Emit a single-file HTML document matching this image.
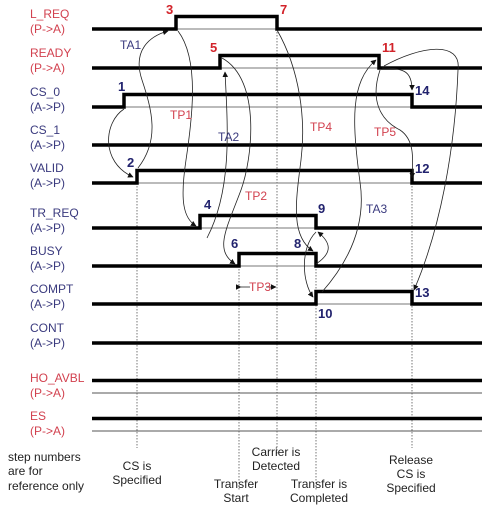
<!DOCTYPE html>
<html><head><meta charset="utf-8"><style>
body{margin:0;background:#fff;width:496px;height:509px;overflow:hidden}
svg{display:block}
.lbl{font-family:"Liberation Sans",sans-serif;font-size:12px}
.r{fill:#d2414f}.b{fill:#3a3a7e}
.num{font-family:"Liberation Sans",sans-serif;font-size:13px;font-weight:bold}
.bt{font-family:"Liberation Sans",sans-serif;font-size:12px;fill:#222}
</style></head><body>
<svg id="chart" width="496" height="509" viewBox="0 0 496 509">
<defs><marker id="ah" viewBox="0 0 10 10" refX="9" refY="5" markerWidth="7" markerHeight="7" orient="auto"><path d="M0,0L10,5L0,10z" fill="#111"/></marker></defs>
<g id="guides" stroke="#555" stroke-width="0.8" stroke-dasharray="1.5,1.5"></g>
<g id="rows"></g>
<g fill="none" stroke="#222" stroke-width="0.8" marker-end="url(#ah)">
<path d="M124,109 C104,122 100,162 133,177"/>
<path d="M138,168 C160,140 152,110 142,80 C132,50 150,36 168,31"/>
<path d="M178,31 C200,60 192,120 186,160 C180,200 183,218 196,226"/>
<path d="M207,238 C232,190 228,130 225,72"/>
<path d="M222,58 C262,80 252,160 241,190 C226,230 214,250 235,264"/>
<path d="M277,30 C300,70 306,120 301,160 C296,200 290,236 313,251"/>
<path d="M316,264 C334,252 330,242 318,232"/>
<path d="M316,232 C300,248 302,282 313,297"/>
<path d="M322,292 C352,258 366,222 360,182 C352,122 350,82 376,60"/>
<path d="M380,70 C370,100 380,120 400,130 C415,140 413,160 412,178"/>
<path d="M382,68 C405,68 412,72 412,90"/>
<path d="M384,66 C420,46 462,40 458,70 C455,150 440,230 414,290"/>
</g>
<g stroke="#222" stroke-width="0.8">
<line x1="241" y1="287" x2="250" y2="287" marker-start="url(#ah)"/>
<line x1="266" y1="287" x2="276" y2="287" marker-end="url(#ah)"/>
</g>
<g class="lbl">
<text x="120" y="49" class="b">TA1</text>
<text x="170" y="119" class="r">TP1</text>
<text x="218" y="141" class="b">TA2</text>
<text x="245" y="200" class="r">TP2</text>
<text x="249" y="291" class="r">TP3</text>
<text x="310" y="131" class="r">TP4</text>
<text x="374" y="136" class="r">TP5</text>
<text x="366" y="213" class="b">TA3</text>
</g>
<g class="num" id="nums"></g>
<g id="bottom">
<text class="bt" x="8" y="461">step numbers</text>
<text class="bt" x="8" y="475">are for</text>
<text class="bt" x="8" y="490">reference only</text>
<g text-anchor="middle" class="bt">
<text x="137" y="470">CS is</text><text x="137" y="484">Specified</text>
<text x="276" y="456">Carrier is</text><text x="276" y="470">Detected</text>
<text x="236" y="488">Transfer</text><text x="236" y="502">Start</text>
<text x="319" y="488">Transfer is</text><text x="319" y="502">Completed</text>
<text x="411" y="464">Release</text><text x="411" y="478">CS is</text><text x="411" y="492">Specified</text>
</g></g>
</svg>
<script>
const signalNames=["L_REQ","READY","CS_0","CS_1","VALID","TR_REQ","BUSY","COMPT","CONT","HO_AVBL","ES"];
const directions=["P->A","P->A","A->P","A->P","A->P","A->P","A->P","A->P","A->P","P->A","P->A"];
const lowY=[29,68,107,145,183,228,266,304,343,393,431];
const riseX=[176,220,124,null,137,200,239,316,null,null,null];
const fallX=[277,379,412,null,412,316,316,412,null,null,null];
const constHigh=[false,false,false,false,false,false,false,false,false,true,true];
const stepNums=["3","5","1","2","4","6","7","8","9","10","11","12","13","14"];
const stepX=[166,210,118,127,204,231,280,294,318,318,382,415,415,415];
const stepY=[14,52,91,167,209,248,14,248,213,318,52,173,297,95];
const guideX=[137,239,277,316,412];
const guideBottom=[448,490,455,490,448];
const X0=92,X1=482,H=12.5;
const ns="http://www.w3.org/2000/svg";
const rows=document.getElementById('rows');
signalNames.forEach((n,i)=>{
  const red=directions[i]==="P->A";
  const y=lowY[i];
  const g=document.createElementNS(ns,'g');
  
  
  const t=document.createElementNS(ns,'text');
  t.setAttribute('x',30);t.setAttribute('y',y-11);
  t.setAttribute('class','lbl '+(red?'r':'b'));t.textContent=n;
  const t2=document.createElementNS(ns,'text');
  t2.setAttribute('x',30);t2.setAttribute('y',y+4);
  t2.setAttribute('class','lbl '+(red?'r':'b'));t2.textContent='('+directions[i]+')';
  g.appendChild(t);g.appendChild(t2);
  let d;
  if(constHigh[i]){
    const thin=document.createElementNS(ns,'line');
    thin.setAttribute('x1',X0);thin.setAttribute('x2',X1);thin.setAttribute('y1',y);thin.setAttribute('y2',y);
    thin.setAttribute('stroke','#555');thin.setAttribute('stroke-width','1');
    g.appendChild(thin);
    d=`M${X0},${y-H}H${X1}`;
  } else if(riseX[i]==null){d=`M${X0},${y}H${X1}`;}
  else{
    const r=riseX[i],f=fallX[i],h=y-H;
    const thin=document.createElementNS(ns,'line');
    thin.setAttribute('x1',r);thin.setAttribute('x2',f);thin.setAttribute('y1',y);thin.setAttribute('y2',y);
    thin.setAttribute('stroke','#777');thin.setAttribute('stroke-width','1');
    g.appendChild(thin);
    d=`M${X0},${y}H${r}V${h}H${f}V${y}H${X1}`;
  }
  const p=document.createElementNS(ns,'path');
  p.setAttribute('d',d);p.setAttribute('fill','none');p.setAttribute('stroke','#000');p.setAttribute('stroke-width','3.5');
  g.appendChild(p);rows.appendChild(g);
});
const guides=document.getElementById('guides');
const guideTop=[183,266,29,266,183];
guideX.forEach((x,i)=>{
  const l=document.createElementNS(ns,'line');
  
  
  l.setAttribute('x1',x);l.setAttribute('x2',x);l.setAttribute('y1',guideTop[i]);l.setAttribute('y2',guideBottom[i]);
  guides.appendChild(l);
});
const nums=document.getElementById('nums');
const redNums=["3","5","7","11"];
stepNums.forEach((s,i)=>{
  const t=document.createElementNS(ns,'text');
  
  
  t.setAttribute('x',stepX[i]);t.setAttribute('y',stepY[i]);
  t.setAttribute('fill',redNums.includes(s)?'#d2232a':'#22236e');
  t.textContent=s;nums.appendChild(t);
});
</script>
</body></html>
